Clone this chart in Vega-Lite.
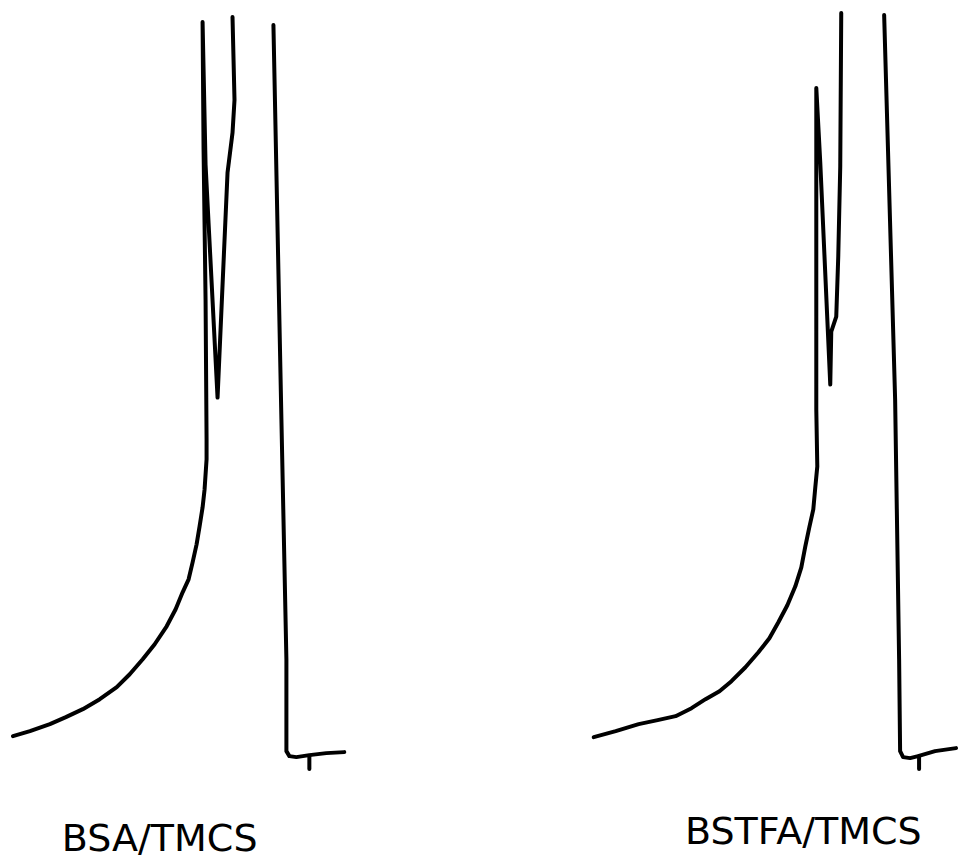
{
  "$schema": "https://vega.github.io/schema/vega-lite/v6.json",
  "width": 958,
  "height": 859,
  "padding": 0,
  "autosize": {"type": "fit", "contains": "padding"},
  "background": "white",
  "config": {"view": {"stroke": null}},
  "datasets": {
    "trace": [
      {"seg": 1, "i": 1, "t": 13, "s": 122},
      {"seg": 1, "i": 1.5, "t": 30, "s": 127},
      {"seg": 1, "i": 2, "t": 50, "s": 134},
      {"seg": 1, "i": 2.5, "t": 66, "s": 141},
      {"seg": 1, "i": 3, "t": 83, "s": 149},
      {"seg": 1, "i": 3.5, "t": 100, "s": 159},
      {"seg": 1, "i": 4, "t": 117, "s": 171},
      {"seg": 1, "i": 4.5, "t": 130, "s": 184},
      {"seg": 1, "i": 5, "t": 143, "s": 199},
      {"seg": 1, "i": 5.5, "t": 155, "s": 214},
      {"seg": 1, "i": 6, "t": 167, "s": 232},
      {"seg": 1, "i": 6.5, "t": 176, "s": 249},
      {"seg": 1, "i": 7, "t": 183, "s": 266},
      {"seg": 1, "i": 7.5, "t": 189, "s": 279},
      {"seg": 1, "i": 8, "t": 193, "s": 296},
      {"seg": 1, "i": 8.5, "t": 197, "s": 314},
      {"seg": 1, "i": 9, "t": 200, "s": 332},
      {"seg": 1, "i": 9.5, "t": 203, "s": 351},
      {"seg": 1, "i": 10, "t": 205, "s": 369},
      {"seg": 1, "i": 11, "t": 207, "s": 399},
      {"seg": 1, "i": 12, "t": 207, "s": 419},
      {"seg": 1, "i": 13, "t": 206, "s": 559},
      {"seg": 1, "i": 14, "t": 204, "s": 709},
      {"seg": 1, "i": 15, "t": 203, "s": 837},
      {"seg": 1, "i": 16, "t": 206, "s": 694},
      {"seg": 1, "i": 17, "t": 218, "s": 461},
      {"seg": 1, "i": 18, "t": 228, "s": 686},
      {"seg": 1, "i": 19, "t": 233, "s": 726},
      {"seg": 1, "i": 20, "t": 235, "s": 759},
      {"seg": 1, "i": 21, "t": 233, "s": 842},
      {"seg": 2, "i": 1, "t": 274, "s": 834},
      {"seg": 2, "i": 2, "t": 282, "s": 439},
      {"seg": 2, "i": 3, "t": 287, "s": 199},
      {"seg": 2, "i": 4, "t": 287, "s": 107},
      {"seg": 2, "i": 5, "t": 290, "s": 102},
      {"seg": 2, "i": 6, "t": 297, "s": 101},
      {"seg": 2, "i": 7, "t": 310, "s": 103},
      {"seg": 2, "i": 8, "t": 327, "s": 105},
      {"seg": 2, "i": 9, "t": 345, "s": 106},
      {"seg": 3, "i": 1, "t": 310, "s": 102},
      {"seg": 3, "i": 2, "t": 310, "s": 89},
      {"seg": 4, "i": 1, "t": 595, "s": 121},
      {"seg": 4, "i": 1.5, "t": 617, "s": 127},
      {"seg": 4, "i": 2, "t": 640, "s": 134},
      {"seg": 4, "i": 2.5, "t": 659, "s": 138},
      {"seg": 4, "i": 3, "t": 677, "s": 142},
      {"seg": 4, "i": 3.5, "t": 693, "s": 150},
      {"seg": 4, "i": 4, "t": 707, "s": 159},
      {"seg": 4, "i": 4.5, "t": 721, "s": 167},
      {"seg": 4, "i": 5, "t": 733, "s": 177},
      {"seg": 4, "i": 5.5, "t": 747, "s": 191},
      {"seg": 4, "i": 6, "t": 760, "s": 206},
      {"seg": 4, "i": 6.5, "t": 771, "s": 220},
      {"seg": 4, "i": 7, "t": 780, "s": 236},
      {"seg": 4, "i": 7.5, "t": 789, "s": 253},
      {"seg": 4, "i": 8, "t": 797, "s": 272},
      {"seg": 4, "i": 8.5, "t": 803, "s": 291},
      {"seg": 4, "i": 9, "t": 807, "s": 312},
      {"seg": 4, "i": 9.5, "t": 811, "s": 331},
      {"seg": 4, "i": 10, "t": 815, "s": 349},
      {"seg": 4, "i": 10.5, "t": 817, "s": 371},
      {"seg": 4, "i": 11, "t": 819, "s": 392},
      {"seg": 4, "i": 12, "t": 818, "s": 449},
      {"seg": 4, "i": 13, "t": 818, "s": 499},
      {"seg": 4, "i": 14, "t": 818, "s": 659},
      {"seg": 4, "i": 15, "t": 818, "s": 771},
      {"seg": 4, "i": 16, "t": 822, "s": 696},
      {"seg": 4, "i": 17, "t": 832, "s": 474},
      {"seg": 4, "i": 18, "t": 833, "s": 527},
      {"seg": 4, "i": 19, "t": 838, "s": 542},
      {"seg": 4, "i": 20, "t": 840, "s": 602},
      {"seg": 4, "i": 21, "t": 842, "s": 692},
      {"seg": 4, "i": 22, "t": 843, "s": 846},
      {"seg": 5, "i": 1, "t": 886, "s": 844},
      {"seg": 5, "i": 2, "t": 897, "s": 459},
      {"seg": 5, "i": 3, "t": 901, "s": 199},
      {"seg": 5, "i": 4, "t": 902, "s": 107},
      {"seg": 5, "i": 5, "t": 905, "s": 101},
      {"seg": 5, "i": 6, "t": 912, "s": 100},
      {"seg": 5, "i": 7, "t": 920, "s": 102},
      {"seg": 5, "i": 8, "t": 937, "s": 107},
      {"seg": 5, "i": 9, "t": 958, "s": 110},
      {"seg": 6, "i": 1, "t": 921, "s": 102},
      {"seg": 6, "i": 2, "t": 921, "s": 89}
    ],
    "labels": [
      {"label": "BSA/TMCS", "t": 160, "s": 7},
      {"label": "BSTFA/TMCS", "t": 805, "s": 14}
    ]
  },
  "layer": [
    {
      "data": {"name": "trace"},
      "mark": {"type": "line", "color": "black", "strokeWidth": 4, "strokeCap": "round", "strokeJoin": "round", "clip": false},
      "encoding": {
        "x": {"field": "t", "type": "quantitative", "scale": {"domain": [0, 958], "nice": false, "zero": false}, "axis": null},
        "y": {"field": "s", "type": "quantitative", "scale": {"domain": [0, 859], "nice": false, "zero": false}, "axis": null},
        "detail": {"field": "seg", "type": "nominal"},
        "order": {"field": "i", "type": "quantitative"}
      }
    },
    {
      "data": {"name": "labels"},
      "mark": {"type": "text", "font": "DejaVu Sans", "fontSize": 38, "align": "center", "baseline": "alphabetic", "color": "black"},
      "encoding": {
        "x": {"field": "t", "type": "quantitative"},
        "y": {"field": "s", "type": "quantitative"},
        "text": {"field": "label"}
      }
    }
  ]
}
